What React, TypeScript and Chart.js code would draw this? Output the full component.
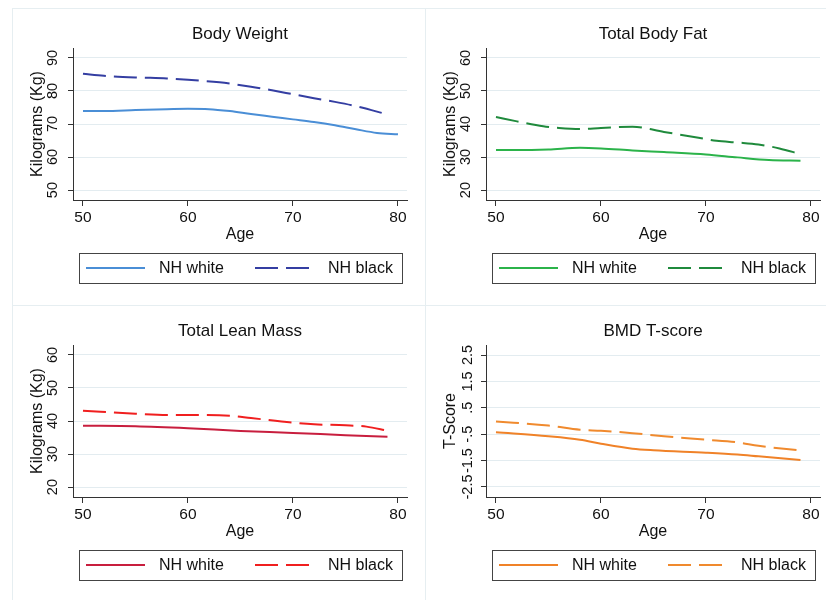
import React, { useEffect, useRef } from "react";
import { Chart, registerables } from "chart.js";
Chart.register(...registerables);

const FONT = "'Liberation Sans', Arial, Helvetica, sans-serif";

// ---- shared ----
const ageTicks = [50, 60, 70, 80];
const seriesNames = ["NH white", "NH black"];
const kgTicksHigh = [50, 60, 70, 80, 90];
const kgTicksLow = [20, 30, 40, 50, 60];
const tTicks = [-2.5, -1.5, -0.5, 0.5, 1.5, 2.5];
const tTickLabels = ["-2.5", "-1.5", "-.5", ".5", "1.5", "2.5"];

// ---- Body Weight ----
const bwWhiteAges = [50, 52, 55, 58, 60, 62, 64, 66, 68, 70, 72, 74, 76, 78, 80];
const bwWhiteVals = [73.9, 73.9, 74.2, 74.5, 74.6, 74.5, 73.9, 73.0, 72.2, 71.4, 70.6, 69.6, 68.4, 67.3, 66.9];
const bwBlackAges = [50, 52, 55, 58, 60, 63, 66, 68, 70, 72, 74, 76, 79];
const bwBlackVals = [85.2, 84.6, 84.1, 83.8, 83.4, 82.6, 81.3, 80.2, 79.0, 77.8, 76.7, 75.4, 72.9];

// ---- Total Body Fat ----
const fatWhiteAges = [50, 52, 55, 58, 60, 63, 66, 70, 73, 76, 79];
const fatWhiteVals = [32.1, 32.1, 32.3, 32.8, 32.6, 32.0, 31.5, 30.8, 29.9, 29.1, 28.9];
const fatBlackAges = [50, 52, 54.5, 56, 58, 60, 63, 66, 69, 71, 73, 75, 77, 79];
const fatBlackVals = [42.1, 40.8, 39.3, 38.8, 38.5, 38.8, 39.2, 37.6, 36.0, 34.9, 34.4, 33.8, 32.6, 30.9];

// ---- Total Lean Mass ----
const leanWhiteAges = [50, 55, 60, 65, 70, 75, 79];
const leanWhiteVals = [38.6, 38.4, 37.8, 37.0, 36.4, 35.7, 35.2];
const leanBlackAges = [50, 55, 58, 60, 64, 66, 70, 72, 75, 77, 79];
const leanBlackVals = [43.1, 42.2, 41.8, 41.8, 41.6, 40.9, 39.5, 39.0, 38.7, 38.3, 37.1];

// ---- BMD T-score ----
const bmdWhiteAges = [50, 55, 58, 60, 63, 65, 70, 73, 75, 79];
const bmdWhiteVals = [-0.43, -0.58, -0.71, -0.86, -1.05, -1.11, -1.2, -1.27, -1.34, -1.48];
const bmdBlackAges = [50, 55, 58, 60, 63, 66, 70, 73, 75, 79];
const bmdBlackVals = [-0.02, -0.17, -0.33, -0.37, -0.46, -0.58, -0.71, -0.81, -0.94, -1.12];

type Series = { label: string; ages: number[]; vals: number[]; color: string; dash: number[] };
type PanelProps = {
  title: string;
  yTitle: string;
  yMin: number;
  yMax: number;
  yTicks: number[];
  yLabels: string[];
  yTickPad: number;
  series: Series[];
  left: number;
  top: number;
};

const legendBox = {
  id: "legendBox",
  afterDraw(chart: any) {
    const { ctx, chartArea } = chart;
    const left = Math.round(chartArea.left + 6);
    const right = Math.round(chartArea.right - 5);
    const top = Math.round(chartArea.bottom + 53);
    const h = 30;
    ctx.save();
    ctx.strokeStyle = "#444";
    ctx.lineWidth = 1;
    ctx.setLineDash([]);
    ctx.strokeRect(left + 0.5, top + 0.5, right - left, h);
    const cy = top + h / 2;
    const slots = [
      [7, 66, 80],
      [176, 232, 249],
    ];
    chart.data.datasets.forEach((ds: any, i: number) => {
      const [a, b, t] = slots[i];
      ctx.beginPath();
      ctx.setLineDash(ds.borderDash || []);
      ctx.strokeStyle = ds.borderColor;
      ctx.lineWidth = 2;
      ctx.moveTo(left + a, cy);
      ctx.lineTo(left + b, cy);
      ctx.stroke();
      ctx.setLineDash([]);
      ctx.fillStyle = "#111";
      ctx.font = `16px ${FONT}`;
      ctx.textBaseline = "middle";
      ctx.textAlign = "left";
      ctx.fillText(ds.label, left + t, cy + 1);
    });
    ctx.restore();
  },
};

function Panel(p: PanelProps) {
  const ref = useRef<HTMLCanvasElement | null>(null);
  useEffect(() => {
    if (!ref.current) return;
    const chart = new Chart(ref.current, {
      type: "line",
      data: {
        datasets: p.series.map((s) => ({
          label: s.label,
          data: s.ages.map((a, i) => ({ x: a, y: s.vals[i] })),
          borderColor: s.color,
          backgroundColor: s.color,
          borderWidth: 2,
          borderDash: s.dash,
          pointRadius: 0,
          cubicInterpolationMode: "monotone",
          fill: false,
        })),
      },
      options: {
        animation: false,
        responsive: false,
        devicePixelRatio: 1,
        layout: { padding: { left: 0, right: 6, top: 0, bottom: 56 } },
        plugins: {
          legend: { display: false },
          tooltip: { enabled: false },
          title: {
            display: true,
            fullSize: false,
            text: p.title,
            color: "#111",
            font: { family: FONT, size: 17, weight: "normal" },
            padding: { top: 24, bottom: 3.6 },
          },
        },
        scales: {
          x: {
            type: "linear",
            min: 49.05,
            max: 80.86,
            afterBuildTicks: (s: any) => {
              s.ticks = ageTicks.map((v) => ({ value: v }));
            },
            afterFit: (s: any) => {
              s.height = 44;
            },
            grid: { drawOnChartArea: false, drawTicks: true, tickLength: 6, tickColor: "#333" },
            border: { color: "#333", width: 1 },
            ticks: {
              font: { family: FONT, size: 15.5 },
              color: "#111",
              padding: 2,
              maxRotation: 0,
              autoSkip: false,
              callback: (v: any) => String(v),
            },
            title: {
              display: true,
              text: "Age",
              color: "#111",
              font: { family: FONT, size: 16 },
              padding: { top: 0, bottom: 0 },
            },
          },
          y: {
            type: "linear",
            min: p.yMin,
            max: p.yMax,
            afterBuildTicks: (s: any) => {
              s.ticks = p.yTicks.map((v) => ({ value: v }));
            },
            afterFit: (s: any) => {
              s.width = 73;
            },
            grid: { color: "#e3ecf0", lineWidth: 1, drawTicks: true, tickLength: 5, tickColor: "#333" },
            border: { color: "#333", width: 1 },
            ticks: {
              font: { family: FONT, size: 14.5 },
              color: "#111",
              minRotation: 90,
              maxRotation: 90,
              crossAlign: "center",
              padding: p.yTickPad,
              autoSkip: false,
              callback: (_v: any, i: number) => p.yLabels[i],
            },
            title: {
              display: true,
              text: p.yTitle,
              color: "#111",
              font: { family: FONT, size: 16 },
              padding: { top: 28, bottom: 0 },
            },
          },
        },
      } as any,
      plugins: [legendBox],
    });
    return () => chart.destroy();
  }, []);
  return (
    <canvas
      ref={ref}
      width={413}
      height={300}
      style={{ position: "absolute", left: p.left, top: p.top, width: 413, height: 300 }}
    />
  );
}

export default function App() {
  const line = "#e6eef1";
  return (
    <div style={{ position: "fixed", left: 0, top: 0, width: 826, height: 600, background: "#fff", overflow: "hidden" }}>
      <div style={{ position: "absolute", left: 12, top: 8, width: 1, height: 592, background: line }} />
      <div style={{ position: "absolute", left: 425, top: 8, width: 1, height: 592, background: line }} />
      <div style={{ position: "absolute", left: 12, top: 8, width: 814, height: 1, background: line }} />
      <div style={{ position: "absolute", left: 12, top: 305, width: 814, height: 1, background: line }} />
      <Panel
        title="Body Weight"
        yTitle="Kilograms (Kg)"
        yMin={47}
        yMax={93}
        yTicks={kgTicksHigh}
        yLabels={kgTicksHigh.map(String)}
        yTickPad={7}
        left={0}
        top={0}
        series={[
          { label: seriesNames[0], ages: bwWhiteAges, vals: bwWhiteVals, color: "#4a8ed6", dash: [] },
          { label: seriesNames[1], ages: bwBlackAges, vals: bwBlackVals, color: "#343ea2", dash: [23, 8] },
        ]}
      />
      <Panel
        title="Total Body Fat"
        yTitle="Kilograms (Kg)"
        yMin={17}
        yMax={63}
        yTicks={kgTicksLow}
        yLabels={kgTicksLow.map(String)}
        yTickPad={7}
        left={413}
        top={0}
        series={[
          { label: seriesNames[0], ages: fatWhiteAges, vals: fatWhiteVals, color: "#2bb34a", dash: [] },
          { label: seriesNames[1], ages: fatBlackAges, vals: fatBlackVals, color: "#1f8a3c", dash: [23, 8] },
        ]}
      />
      <Panel
        title="Total Lean Mass"
        yTitle="Kilograms (Kg)"
        yMin={17}
        yMax={63}
        yTicks={kgTicksLow}
        yLabels={kgTicksLow.map(String)}
        yTickPad={7}
        left={0}
        top={297}
        series={[
          { label: seriesNames[0], ages: leanWhiteAges, vals: leanWhiteVals, color: "#c81e3e", dash: [] },
          { label: seriesNames[1], ages: leanBlackAges, vals: leanBlackVals, color: "#f01f1f", dash: [23, 8] },
        ]}
      />
      <Panel
        title="BMD T-score"
        yTitle="T-Score"
        yMin={-2.88}
        yMax={2.88}
        yTicks={tTicks}
        yLabels={tTickLabels}
        yTickPad={1}
        left={413}
        top={297}
        series={[
          { label: seriesNames[0], ages: bmdWhiteAges, vals: bmdWhiteVals, color: "#f08228", dash: [] },
          { label: seriesNames[1], ages: bmdBlackAges, vals: bmdBlackVals, color: "#f08a2e", dash: [23, 8] },
        ]}
      />
    </div>
  );
}
